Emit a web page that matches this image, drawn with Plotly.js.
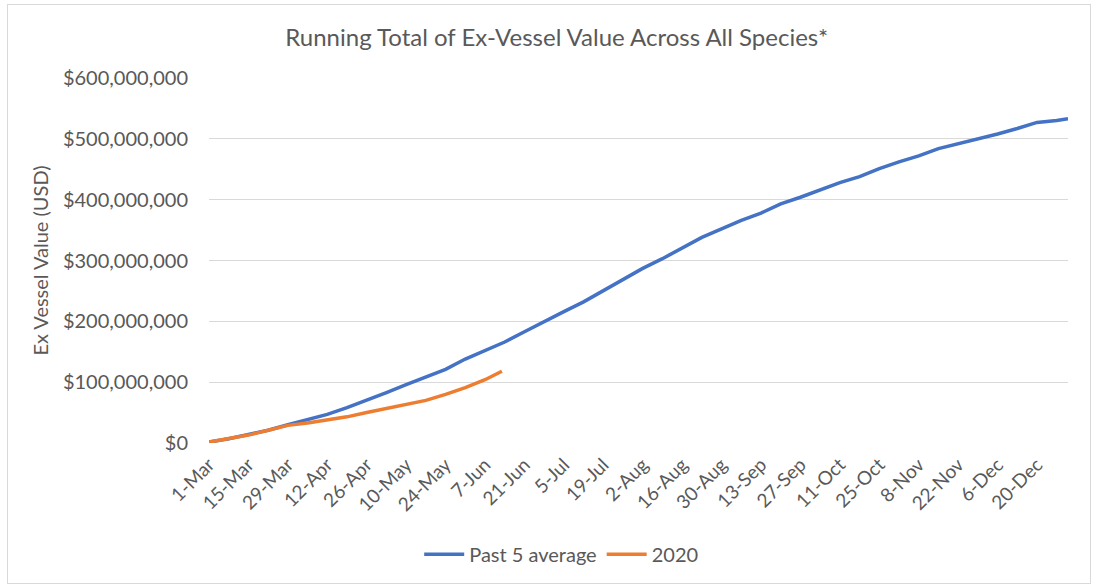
<!DOCTYPE html>
<html>
<head>
<meta charset="utf-8">
<script src="https://cdn.plot.ly/plotly-3.0.1.min.js"></script>
<style>
  html, body { margin: 0; padding: 0; background: #fff; }
  #wrap { position: relative; width: 1096px; height: 586px; }
  #chart { width: 1096px; height: 586px; }
  #frame { position: absolute; left: 7px; top: 4px; width: 1084px; height: 580px; border: 1px solid #d9d9d9; box-sizing: border-box; pointer-events: none; }
</style>
</head>
<body>
<div id="wrap"><div id="chart"></div><div id="frame"></div></div>
<script>
// Weekly readings (USD) of the running total
const avgDates = ["2020-03-01","2020-03-08","2020-03-15","2020-03-22","2020-03-29","2020-04-05","2020-04-12","2020-04-19","2020-04-26","2020-05-03","2020-05-10","2020-05-17","2020-05-24","2020-05-31","2020-06-07","2020-06-14","2020-06-21","2020-06-28","2020-07-05","2020-07-12","2020-07-19","2020-07-26","2020-08-02","2020-08-09","2020-08-16","2020-08-23","2020-08-30","2020-09-06","2020-09-13","2020-09-20","2020-09-27","2020-10-04","2020-10-11","2020-10-18","2020-10-25","2020-11-01","2020-11-08","2020-11-15","2020-11-22","2020-11-29","2020-12-06","2020-12-13","2020-12-20","2020-12-27","2020-12-31"];
const avgValues = [1.5e6,7e6,14e6,21e6,30e6,38e6,47e6,58e6,70e6,83e6,96e6,108e6,121e6,138e6,152e6,166e6,183e6,200e6,216e6,232e6,250e6,268e6,287e6,303e6,320e6,338e6,352e6,366e6,378e6,393e6,404e6,416e6,428e6,438e6,451e6,462e6,472e6,484e6,492e6,499e6,508e6,517e6,527e6,530e6,533e6];

const y2020Dates = ["2020-03-01","2020-03-08","2020-03-15","2020-03-22","2020-03-29","2020-04-05","2020-04-12","2020-04-19","2020-04-26","2020-05-03","2020-05-10","2020-05-17","2020-05-24","2020-05-31","2020-06-07","2020-06-13"];
const y2020Values = [1.5e6,7e6,13e6,21e6,29e6,33e6,38e6,43e6,50e6,57e6,63e6,70e6,80e6,91e6,104e6,118e6];

const tickDates = ["2020-03-01","2020-03-15","2020-03-29","2020-04-12","2020-04-26","2020-05-10","2020-05-24","2020-06-07","2020-06-21","2020-07-05","2020-07-19","2020-08-02","2020-08-16","2020-08-30","2020-09-13","2020-09-27","2020-10-11","2020-10-25","2020-11-08","2020-11-22","2020-12-06","2020-12-20"];
const tickLabels = ["1-Mar","15-Mar","29-Mar","12-Apr","26-Apr","10-May","24-May","7-Jun","21-Jun","5-Jul","19-Jul","2-Aug","16-Aug","30-Aug","13-Sep","27-Sep","11-Oct","25-Oct","8-Nov","22-Nov","6-Dec","20-Dec"];

const yTicks = [0,100e6,200e6,300e6,400e6,500e6,600e6];
const yTickLabels = ["$0","$100,000,000","$200,000,000","$300,000,000","$400,000,000","$500,000,000","$600,000,000"];

const FONT = "Lato, 'Open Sans', sans-serif";
const GRAY = "#595959";

const traces = [
  {x: avgDates, y: avgValues, name: "Past 5 average", type: "scatter", mode: "lines",
   line: {color: "#4472C4", width: 3.5}},
  {x: y2020Dates, y: y2020Values, name: "2020", type: "scatter", mode: "lines",
   line: {color: "#ED7D31", width: 3.5}}
];

const layout = {
  width: 1096, height: 586,
  margin: {l: 209, r: 28, t: 78, b: 140},
  paper_bgcolor: "#fff", plot_bgcolor: "#fff",
  font: {family: FONT, color: GRAY, size: 20},
  title: {text: "Running Total of Ex-Vessel Value Across All Species*", font: {size: 24, color: GRAY, family: FONT},
          x: 0.508, xanchor: "center", y: 0.935, yanchor: "middle"},
  xaxis: {type: "date", range: ["2020-03-01", "2020-12-31"], tickvals: tickDates, ticktext: tickLabels,
          tickangle: -45, showgrid: false, zeroline: false, showline: false, ticks: "", ticklabelstandoff: 6,
          tickfont: {size: 19, color: GRAY}, automargin: false},
  yaxis: {range: [0, 600e6], tickvals: yTicks, ticktext: yTickLabels, showgrid: true, gridcolor: "#d9d9d9", gridwidth: 1,
          zeroline: false, showline: false, ticks: "", ticklabelstandoff: 20,
          tickfont: {size: 20, color: GRAY}, automargin: false,
          title: {text: "Ex Vessel Value (USD)", font: {size: 20, color: GRAY}, standoff: 8}},
  showlegend: true,
  legend: {orientation: "h", x: 0.41, xanchor: "center", y: -0.305, yanchor: "middle",
           font: {size: 20, color: GRAY}, itemwidth: 40, traceorder: "normal"}
};

Plotly.newPlot("chart", traces, layout, {displayModeBar: false, staticPlot: true});
</script>
</body>
</html>
